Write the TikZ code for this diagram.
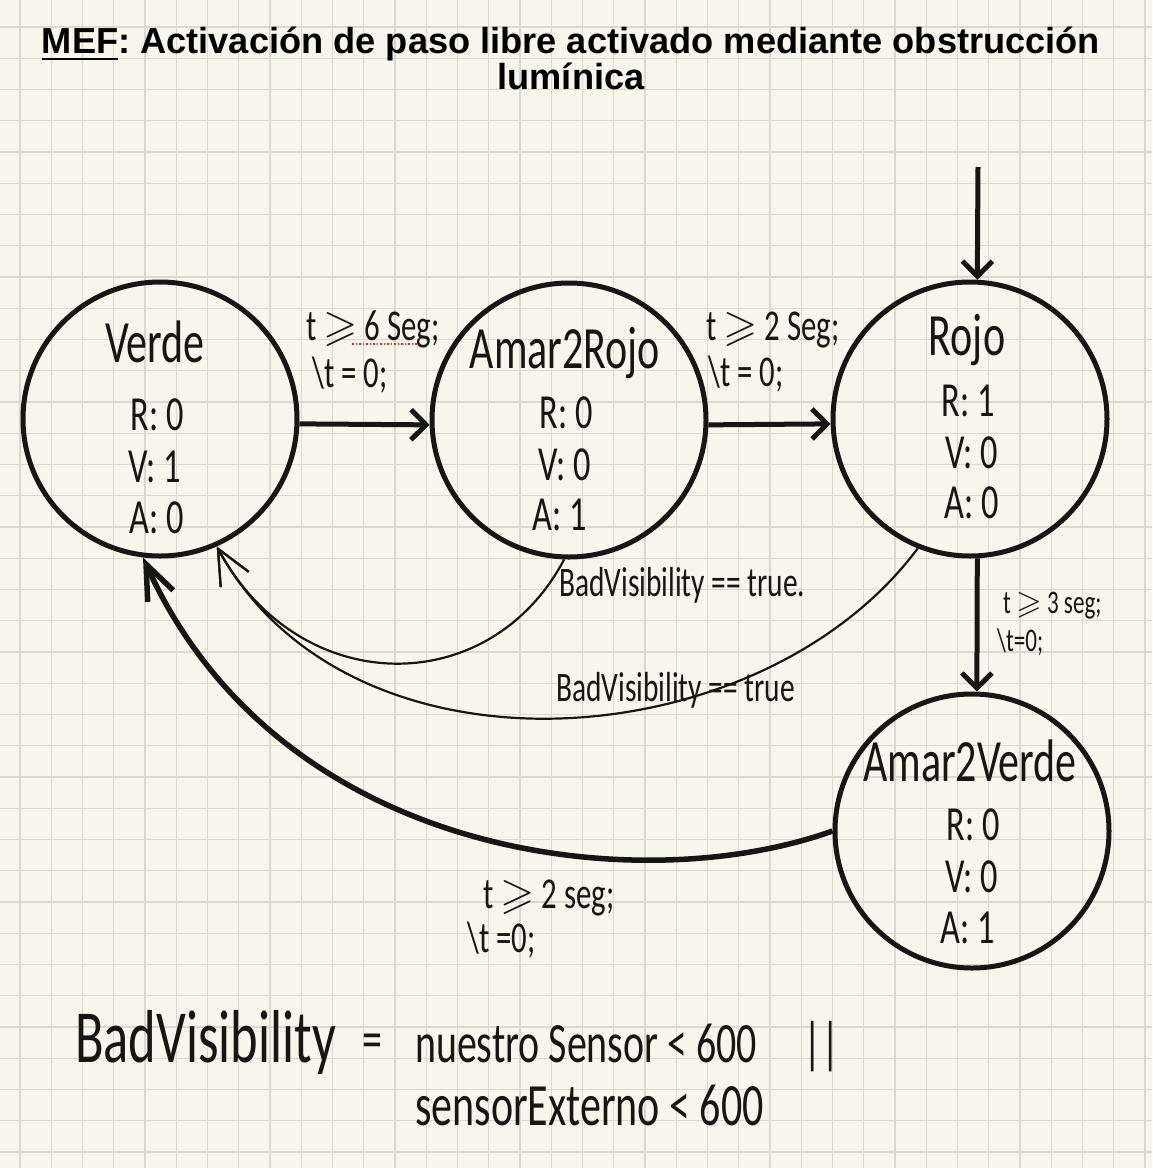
\documentclass[tikz,border=0pt]{standalone}
\usepackage{amssymb}
\usepackage{fontspec}
\setmainfont{Liberation Sans}
\newfontfamily\hand[FakeStretch=0.7]{Carlito}
\usetikzlibrary{arrows.meta}
\definecolor{paper}{RGB}{248,246,235}
\definecolor{gridc}{RGB}{218,216,208}
\definecolor{ink}{RGB}{22,22,22}
\definecolor{spell}{RGB}{225,40,40}
\newcommand{\gq}{\ensuremath{\geqslant}}
\frenchspacing
\begin{document}
\begin{tikzpicture}[x=1pt,y=-1pt,
  state/.style={draw=ink, circle, line width=5pt, minimum size=274pt, inner sep=0pt},
  sname/.style={anchor=base, font={\hand\fontsize{60}{60}\selectfont}, text=ink, inner sep=0pt},
  sval/.style={anchor=base, font={\hand\fontsize{49}{49}\selectfont}, text=ink, inner sep=0pt},
  tlabel/.style={anchor=base west, font={\hand\fontsize{44}{44}\selectfont}, text=ink, inner sep=0pt},
  slabel/.style={anchor=base west, font={\hand\fontsize{33}{33}\selectfont}, text=ink, inner sep=0pt},
  blabel/.style={anchor=base west, font={\hand\fontsize{42}{42}\selectfont}, text=ink, inner sep=0pt},
  bigtext/.style={anchor=base west, font={\hand\fontsize{57}{57}\selectfont}, text=ink, inner sep=0pt},
  trans/.style={draw=ink, line width=5pt, -{Straight Barb[length=15pt,width=30pt]}},
  curvethick/.style={draw=ink, line width=5.5pt, -{Straight Barb[length=35pt,width=28pt]}},
  curvethin/.style={draw=ink, line width=2.2pt, -{Straight Barb[length=35pt,width=32pt]}},
  titletext/.style={anchor=base, align=center, font={\bfseries\fontsize{36.2}{31}\selectfont}, text=black, inner sep=0pt}
]
\useasboundingbox (0,0) rectangle (1152,1168);
\fill[paper] (0,0) rectangle (1152,1168);
\foreach \i in {0,...,36} {
  \draw[gridc, line width=1.2pt] ({20+31.25*\i},0) -- ({20+31.25*\i},1168);
  \draw[gridc, line width=1.2pt] (0,{27+31.25*\i}) -- (1152,{27+31.25*\i});
}

% title
\node[titletext] (title) at (571,89) {\underline{MEF}: Activación de paso libre activado mediante obstrucción\\lumínica};

% states
\node[state] (verde) at (160,419) {};
\node[state] (a2r) at (569,420) {};
\node[state] (rojo) at (970,419) {};
\node[state] (a2v) at (972,831) {};

\node[sname] (verdeN) at (155,362) {Verde};
\node[sval] (verdeR) at (157,430) {R: 0};
\node[sval] (verdeV) at (155,482) {V: 1};
\node[sval] (verdeA) at (157,533) {A: 0};

\node[sname] (a2rN) at (565,368) {Amar2Rojo};
\node[sval] (a2rR) at (566,428) {R: 0};
\node[sval] (a2rV) at (565,480) {V: 0};
\node[sval] (a2rA) at (560,530) {A: 1};

\node[sname] (rojoN) at (967,355) {Rojo};
\node[sval] (rojoR) at (968,416) {R: 1};
\node[sval] (rojoV) at (972,468) {V: 0};
\node[sval] (rojoA) at (972,518) {A: 0};

\node[sname] (a2vN) at (970,781) {Amar2Verde};
\node[sval] (a2vR) at (973,840) {R: 0};
\node[sval] (a2vV) at (972,892) {V: 0};
\node[sval] (a2vA) at (968,943) {A: 1};

% transitions
\coordinate (init) at (978,167);
\draw[trans] (init) -- (rojo.87);
\draw[trans] (verde.-2) -- (a2r.182);
\draw[trans] (a2r.-2) -- (rojo.182);
\draw[trans] (rojo.-87) -- (a2v.88);
\draw[curvethick] (a2v.180) .. controls (640,900) and (280,860) .. (verde.-97);
\draw[curvethin] (a2r.-92) .. controls (490,700) and (300,700) .. (verde.-66);
\draw[curvethin] (rojo.-112) .. controls (760,760) and (350,790) .. (verde.-66);

% transition labels
\node[tlabel] (l1a) at (306,340) {t \gq\ 6 Seg;};
\node[tlabel] (l1b) at (312,387) {\textbackslash t = 0;};
\draw[spell, dotted, line width=1.5pt] (352,344) -- (418,344);
\node[tlabel] (l2a) at (706,340) {t \gq\ 2 Seg;};
\node[tlabel] (l2b) at (708,386) {\textbackslash t = 0;};
\node[slabel] (l3a) at (1003,613) {t \gq\ 3 seg;};
\node[slabel] (l3b) at (997,651) {\textbackslash t=0;};
\node[tlabel] (l4a) at (483,908) {t \gq\ 2 seg;};
\node[tlabel] (l4b) at (467,952) {\textbackslash t =0;};
\node[blabel] (b1) at (559,596) {BadVisibility == true.};
\node[blabel] (b2) at (556,701) {BadVisibility == true};

% definition
\node[bigtext, font={\hand\fontsize{75}{75}\selectfont}] (defL) at (75,1062) {BadVisibility};
\node[bigtext] (defEq) at (362,1058) {=};
\node[bigtext] (defR1) at (415,1062) {nuestro Sensor < 600};
\node[bigtext] (defOr) at (803,1062) {||};
\node[bigtext, font={\hand\fontsize{60}{60}\selectfont}] (defR2) at (415,1125) {sensorExterno < 600};
\end{tikzpicture}
\end{document}
